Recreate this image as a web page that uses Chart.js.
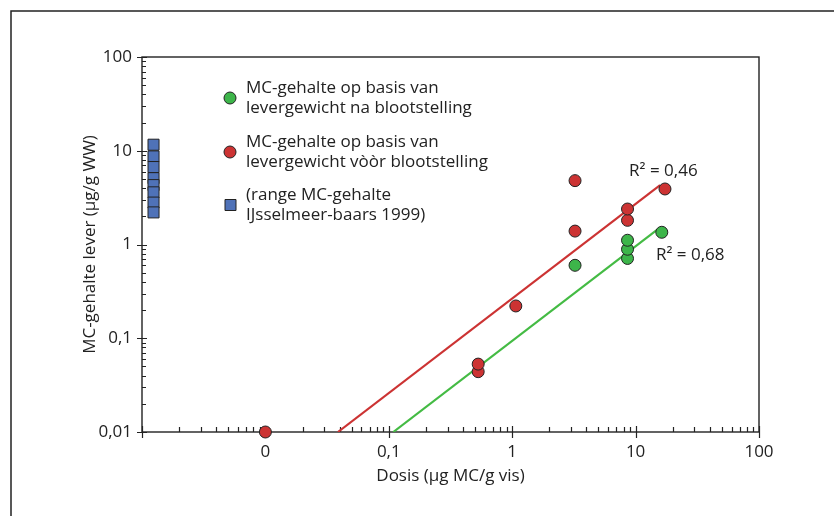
<!DOCTYPE html>
<html>
<head>
<meta charset="utf-8">
<script src="https://cdn.jsdelivr.net/npm/chart.js@4.4.0/dist/chart.umd.min.js"></script>
<style>
  body { margin: 0; background: #fff; }
  canvas { display: block; }
</style>
</head>
<body>
<canvas id="myChart" width="834" height="516"></canvas>
<script>
// dosis (µg MC/g vis) tegen MC-gehalte lever (µg/g WW)
// dosis "0" staat op de as bij 0.01
const doseBefore = [0.01, 0.53, 0.53, 1.07, 3.23, 3.23, 8.6, 8.6, 17.3];
const liverBefore = [0.01, 0.044, 0.053, 0.221, 1.39, 4.8, 1.81, 2.39, 3.91];
const doseAfter = [3.23, 8.6, 8.6, 8.6, 16.3];
const liverAfter = [0.60, 0.71, 0.89, 1.11, 1.35];

// range IJsselmeer-baars 1999, links van de as
const rangeDose = 0.00124;
const rangeLiver = [11.6, 8.7, 6.7, 5.1, 4.3, 3.6, 2.8, 2.2];

// trendlijnen (begin- en eindpunt)
const trendBeforeX = [0.0387, 15.8];
const trendBeforeY = [0.01, 4.31];
const trendAfterX = [0.1087, 14.9];
const trendAfterY = [0.01, 1.43];
const r2Labels = ['R² = 0,46', 'R² = 0,68'];

const xTickValues = [0.01, 0.1, 1, 10, 100];
const xTickLabels = ['0', '0,1', '1', '10', '100'];
const yTickValues = [0.01, 0.1, 1, 10, 100];
const yTickLabels = ['0,01', '0,1', '1', '10', '100'];

const legendLines = [
  ['MC-gehalte op basis van', 'levergewicht na blootstelling'],
  ['MC-gehalte op basis van', 'levergewicht vòòr blootstelling'],
  ['(range MC-gehalte', 'IJsselmeer-baars 1999)'],
];

const RED = '#cc3333';
const GREEN = '#3db54a';
const BLUE = '#4f72b8';
const INK = '#222';
const FONT = "'Open Sans', sans-serif";

Chart.defaults.font.family = FONT;
Chart.defaults.font.size = 17;
Chart.defaults.color = INK;

function toPoints(xs, ys) {
  return ys.map((y, i) => ({ x: Array.isArray(xs) ? xs[i] : xs, y: y }));
}

function logSteps(min, max) {
  let out = [];
  for (let e = Math.round(Math.log10(min)); e < Math.round(Math.log10(max)); e++) {
    for (let m = 1; m < 10; m++) {
      out.push({ v: m * Math.pow(10, e), major: m === 1 });
    }
  }
  out.push({ v: max, major: true });
  return out;
}

const framePlugin = {
  id: 'frame',
  beforeDraw(chart) {
    const ctx = chart.ctx;
    ctx.save();
    ctx.strokeStyle = INK;
    ctx.lineWidth = 1.5;
    ctx.beginPath();
    ctx.moveTo(11, chart.height);
    ctx.lineTo(11, 11);
    ctx.lineTo(chart.width, 11);
    ctx.stroke();
    ctx.restore();
  },
  beforeDatasetsDraw(chart) {
    const ctx = chart.ctx;
    const a = chart.chartArea;
    const xs = chart.scales.x;
    const ys = chart.scales.y;
    ctx.save();
    ctx.strokeStyle = INK;
    ctx.lineWidth = 1.4;
    ctx.strokeRect(a.left, a.top, a.right - a.left, a.bottom - a.top);
    ctx.lineWidth = 1.2;
    ctx.beginPath();
    logSteps(xs.min, xs.max).forEach((t) => {
      const px = Math.round(xs.getPixelForValue(t.v)) + 0.5;
      ctx.moveTo(px, a.bottom + (t.major ? 6 : 0));
      ctx.lineTo(px, a.bottom - (t.major ? 6 : 5));
    });
    logSteps(ys.min, ys.max).forEach((t) => {
      const py = Math.round(ys.getPixelForValue(t.v)) + 0.5;
      ctx.moveTo(a.left - (t.major ? 5 : 0), py);
      ctx.lineTo(a.left + (t.major ? 5 : 4), py);
    });
    ctx.stroke();
    ctx.restore();
  },
  afterDatasetsDraw(chart) {
    const ctx = chart.ctx;
    const xs = chart.scales.x;
    const ys = chart.scales.y;
    ctx.save();
    ctx.font = '17px ' + FONT;
    ctx.fillStyle = INK;
    ctx.textBaseline = 'alphabetic';

    // legenda
    const markers = ['circle', 'circle', 'rect'];
    const colors = [GREEN, RED, BLUE];
    const baselines = [93, 147, 200];
    legendLines.forEach((lines, i) => {
      const my = baselines[i] + 5;
      ctx.beginPath();
      if (markers[i] === 'circle') {
        ctx.arc(230, my, 6, 0, Math.PI * 2);
      } else {
        ctx.rect(225, my - 5.5, 11, 11);
      }
      ctx.fillStyle = colors[i];
      ctx.fill();
      ctx.lineWidth = 1;
      ctx.strokeStyle = INK;
      ctx.stroke();
      ctx.fillStyle = INK;
      lines.forEach((txt, j) => {
        ctx.fillText(txt, 246, baselines[i] + j * 19.5);
      });
    });

    // R² bij de trendlijnen
    const endB = { x: xs.getPixelForValue(trendBeforeX[1]), y: ys.getPixelForValue(trendBeforeY[1]) };
    const endA = { x: xs.getPixelForValue(trendAfterX[1]), y: ys.getPixelForValue(trendAfterY[1]) };
    ctx.fillText(r2Labels[0], endB.x - 31, endB.y - 9);
    ctx.fillText(r2Labels[1], endA.x - 1, endA.y + 30);
    ctx.restore();
  }
};

const data = {
  datasets: [
    {
      label: 'MC-gehalte op basis van levergewicht vòòr blootstelling',
      data: toPoints(doseBefore, liverBefore),
      backgroundColor: RED,
      borderColor: INK,
      borderWidth: 1,
      pointRadius: 6,
      clip: false,
      order: 1
    },
    {
      label: 'MC-gehalte op basis van levergewicht na blootstelling',
      data: toPoints(doseAfter, liverAfter),
      backgroundColor: GREEN,
      borderColor: INK,
      borderWidth: 1,
      pointRadius: 6,
      clip: false,
      order: 2
    },
    {
      label: 'range MC-gehalte IJsselmeer-baars 1999',
      data: toPoints(rangeDose, rangeLiver),
      backgroundColor: BLUE,
      borderColor: INK,
      borderWidth: 1,
      pointStyle: 'rect',
      pointRadius: 7.8,
      clip: false,
      order: 3
    },
    {
      label: 'trend vòòr',
      data: toPoints(trendBeforeX, trendBeforeY),
      showLine: true,
      borderColor: RED,
      borderWidth: 2.2,
      pointRadius: 0,
      order: 4
    },
    {
      label: 'trend na',
      data: toPoints(trendAfterX, trendAfterY),
      showLine: true,
      borderColor: '#44bb44',
      borderWidth: 2.2,
      pointRadius: 0,
      order: 5
    }
  ]
};

const config = {
  type: 'scatter',
  data: data,
  options: {
    responsive: false,
    animation: false,
    devicePixelRatio: 1,
    events: [],
    layout: { padding: { left: 0, top: 57, right: 75, bottom: 0 } },
    plugins: {
      legend: { display: false },
      tooltip: { enabled: false }
    },
    scales: {
      x: {
        type: 'logarithmic',
        position: 'bottom',
        min: 0.001,
        max: 100,
        grid: { display: false, drawTicks: false },
        border: { display: false },
        afterBuildTicks: (scale) => {
          scale.ticks = xTickValues.map((v) => ({ value: v }));
        },
        afterFit: (scale) => { scale.height = 84; },
        ticks: {
          autoSkip: false,
          maxRotation: 0,
          padding: 10,
          callback: (value, index) => xTickLabels[index]
        },
        title: {
          display: true,
          text: 'Dosis (µg MC/g vis)',
          padding: { top: 0, bottom: 30 }
        }
      },
      y: {
        type: 'logarithmic',
        min: 0.01,
        max: 100,
        grid: { display: false, drawTicks: false },
        border: { display: false },
        afterBuildTicks: (scale) => {
          scale.ticks = yTickValues.map((v) => ({ value: v }));
        },
        afterFit: (scale) => { scale.width = 142; },
        ticks: {
          autoSkip: false,
          padding: 10,
          callback: (value, index) => yTickLabels[index]
        },
        title: {
          display: true,
          text: 'MC-gehalte lever (µg/g WW)',
          padding: { top: 80, bottom: 0 }
        }
      }
    }
  },
  plugins: [framePlugin]
};

const myChart = new Chart(document.getElementById('myChart'), config);
</script>
</body>
</html>
